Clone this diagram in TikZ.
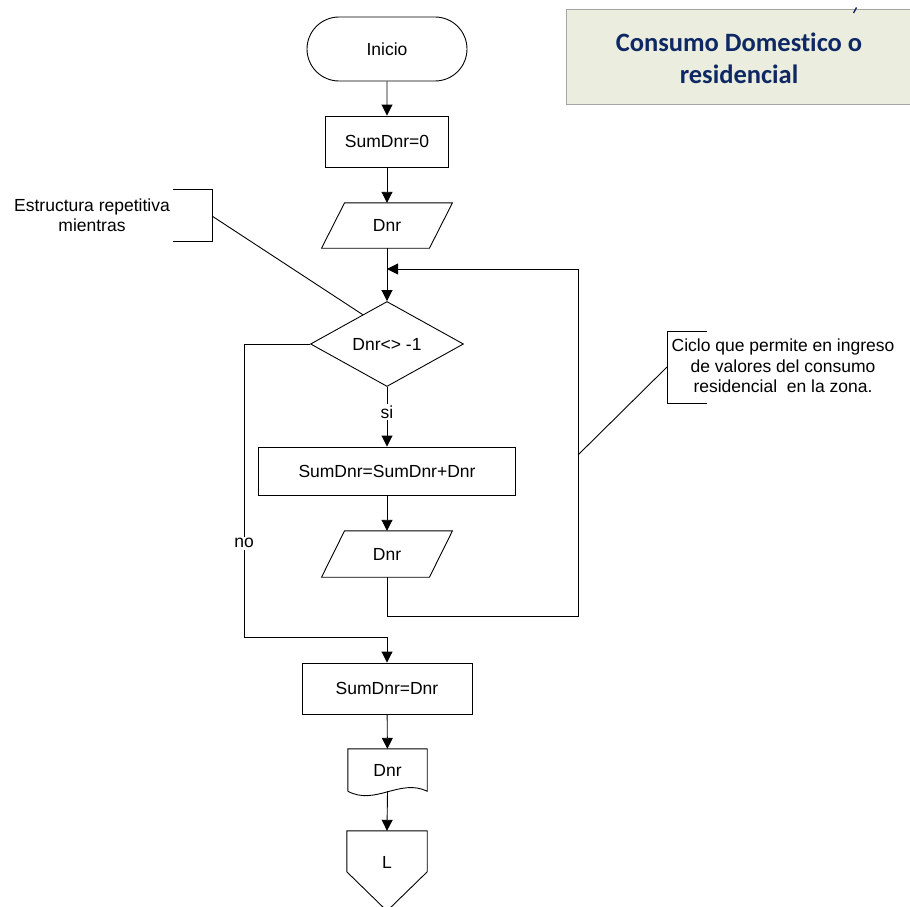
\documentclass[tikz,border=0pt]{standalone}
\usepackage{fontspec}
\setmainfont{Liberation Sans}
\newfontfamily\titlefont[Ligatures=NoCommon]{Carlito}
\usetikzlibrary{shapes.geometric,shapes.misc,arrows.meta,calc}

\definecolor{titleblue}{RGB}{14,40,100}
\definecolor{titlefill}{RGB}{235,238,222}
\definecolor{titleborder}{RGB}{165,165,165}

% parallelogram (data) outline around a text node
\newcommand\drawio[1]{%
  \draw[line] ($(#1.south west)+(-11.5,0)$) -- ($(#1.south east)+(-11.5,0)$)
    -- ($(#1.north east)+(11.5,0)$) -- ($(#1.north west)+(11.5,0)$) -- cycle;}

\begin{document}
\begin{tikzpicture}[x=1pt,y=-1pt,
  font=\fontsize{17.5}{20.5}\selectfont,
  line/.style={draw=black,line width=0.9pt},
  flow/.style={line,-{Triangle[length=11pt,width=11pt]}},
  procbox/.style={draw=black,line width=0.9pt,rectangle,inner sep=0pt},
  iotext/.style={rectangle,inner sep=0pt,minimum width=107.5pt},
  lab/.style={fill=white,inner sep=1.5pt},
  note/.style={align=center,inner sep=0pt}]

\useasboundingbox (0,0) rectangle (910,907);

% title banner
\draw[titleborder,fill=titlefill,line width=0.9pt] (566,9) rectangle (930,104);
\node[font=\titlefont\bfseries\fontsize{26.5}{32}\selectfont,text=titleblue,align=center]
  (title) at (739,58) {Consumo Domestico o\\residencial};
\draw[titleblue,line width=1.4pt] (853.5,13) -- (856.5,7.5);

% main flow
\node[procbox,rounded rectangle,minimum width=160pt,minimum height=64pt] (inicio) at (387,49) {Inicio};
\node[procbox,minimum width=123pt,minimum height=51pt] (s0) at (387,141.5) {SumDnr=0};
\node[iotext,minimum height=45pt] (d1) at (387,225.5) {Dnr};
\drawio{d1}
\node[draw=black,line width=0.9pt,diamond,aspect=1.8,minimum width=153pt,minimum height=85pt,inner sep=0pt] (dec) at (387,344) {Dnr<> -1};
\node[procbox,minimum width=257pt,minimum height=48pt] (s1) at (387,471) {SumDnr=SumDnr+Dnr};
\node[iotext,minimum height=46pt] (d2) at (387,554) {Dnr};
\drawio{d2}
\node[procbox,minimum width=170pt,minimum height=51pt] (s2) at (387,688.5) {SumDnr=Dnr};

% printed document
\node[rectangle,inner sep=0pt,minimum width=79pt,minimum height=42pt] (doc) at (387.5,770) {Dnr};
\draw[line] (doc.south west) -- (doc.north west) -- (doc.north east) -- (doc.south east)
  .. controls (400,778) and (375,806) .. (doc.south west);

% off-page connector
\node[rectangle,inner sep=0pt,minimum width=80pt,minimum height=62pt] (off) at (387,862) {L};
\draw[line] (off.north west) -- (off.north east) -- ($(off.north east)+(0,41)$)
  -- (387,911) -- ($(off.north west)+(0,41)$) -- cycle;

% connectors
\coordinate (join) at (387,269);
\coordinate (loopB) at (578,616);
\coordinate (noB) at (244,637);
\draw[flow] (inicio) -- (s0);
\draw[flow] (s0) -- (d1);
\draw[flow] (d1) -- (dec);
\draw[flow] (dec) -- node[lab,pos=0.42]{si} (s1);
\draw[flow] (s1) -- (d2);
\draw[flow] (d2.south) |- (loopB) |- (join);
\draw[flow] (dec.west) -| node[lab,pos=0.84]{no} (noB) -| (s2.north);
\draw[flow] (s2) -- (doc);
\draw[flow] (doc.south) -- (off.north);

% annotations
\node[note] (n1) at (92,215) {Estructura repetitiva\\mientras};
\coordinate (n1a) at (173,189);
\coordinate (n1b) at (212,189);
\coordinate (n1c) at (212,241);
\coordinate (n1d) at (173,241);
\coordinate (n1m) at (212,216);
\draw[line] (n1a) -- (n1b) -- (n1c) -- (n1d);
\draw[line] (n1m) -- ($(dec.north)!0.316!(dec.west)$);

\node[note] (n2) at (783,366) {Ciclo que permite en ingreso\\de valores del consumo\\residencial\ \ en la zona.};
\coordinate (n2a) at (707,331);
\coordinate (n2b) at (667,331);
\coordinate (n2c) at (667,403);
\coordinate (n2d) at (707,403);
\coordinate (n2m) at (667,367);
\coordinate (n2t) at (578,455);
\draw[line] (n2a) -- (n2b) -- (n2c) -- (n2d);
\draw[line] (n2m) -- (n2t);
\end{tikzpicture}
\end{document}
